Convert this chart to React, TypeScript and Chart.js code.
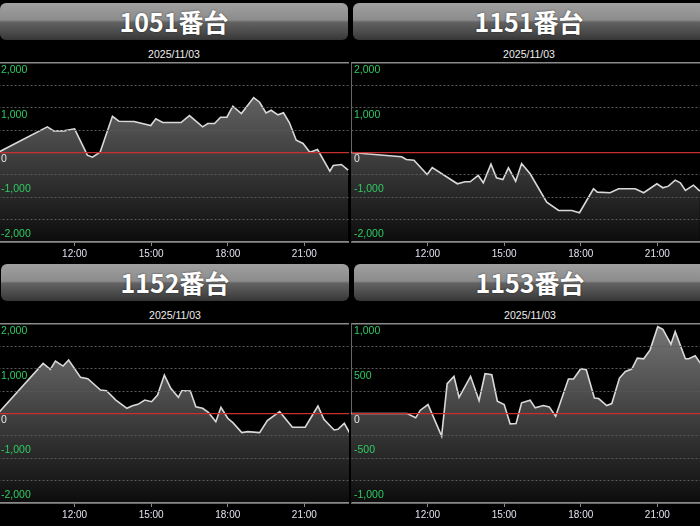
import React, { useEffect, useRef } from "react";
import { Chart, registerables } from "chart.js";

Chart.register(...registerables);

const DATE_LABEL = "2025/11/03";
const X_MIN = "9:00";
const X_MAX = "22:45";
const X_TICKS = ["12:00", "15:00", "18:00", "21:00"];

// 1051番台
const times1051 = ["9:00","10:56","11:11","11:35","12:00","12:30","12:42","13:00","13:29","13:44","14:20","14:59","15:11","15:27","16:10","16:30","17:01","17:13","17:29","17:43","17:58","18:12","18:32","19:01","19:15","19:30","19:42","19:58","20:11","20:25","20:41","20:57","21:13","21:31","22:00","22:08","22:27","22:43"];
const values1051 = [0,574,484,484,529,-60,-105,7,810,699,692,603,752,670,670,826,573,647,647,789,789,1034,871,1228,1123,886,944,841,886,663,275,201,7,67,-417,-290,-268,-395];

// 1151番台
const times1151 = ["9:00","10:59","11:10","11:28","11:59","12:11","13:10","13:28","13:40","13:59","14:11","14:29","14:42","14:57","15:10","15:27","15:41","16:01","16:40","17:08","17:39","17:57","18:30","18:39","19:09","19:29","20:08","20:28","20:59","21:13","21:26","21:42","21:54","22:06","22:25","22:40"];
const values1151 = [0,-96,-156,-171,-491,-335,-699,-654,-654,-513,-676,-261,-565,-603,-342,-640,-246,-476,-1109,-1295,-1295,-1346,-810,-886,-900,-810,-810,-900,-699,-788,-752,-618,-676,-848,-730,-864];

// 1152番台
const times1152 = ["9:00","10:46","11:03","11:15","11:33","11:46","12:14","12:31","13:01","13:15","13:37","14:03","14:16","14:29","14:45","15:01","15:15","15:31","15:46","16:04","16:12","16:32","16:45","17:01","17:15","17:32","17:44","18:00","18:12","18:33","18:47","19:15","19:33","20:02","20:32","21:02","21:32","21:46","22:10","22:19","22:34","22:47"];
const values1152 = [0,1120,986,1172,1060,1194,808,777,525,509,301,116,174,205,301,263,413,859,562,362,509,502,152,116,18,-183,138,-107,-205,-428,-406,-428,-160,40,-308,-308,167,-129,-368,-353,-219,-442];

// 1153番台
const times1153 = ["9:00","11:12","11:32","11:43","12:01","12:33","12:46","13:02","13:14","13:41","14:01","14:15","14:31","14:44","15:00","15:14","15:28","15:41","16:01","16:13","16:32","16:46","17:01","17:31","17:43","18:00","18:13","18:32","18:42","19:01","19:13","19:31","19:45","20:00","20:13","20:28","20:43","21:01","21:13","21:32","21:42","22:06","22:14","22:29","22:41"];
const values1153 = [0,0,-48,37,100,-252,333,415,181,415,144,444,433,137,100,-115,-111,119,148,63,89,74,-30,385,385,500,489,174,167,89,111,396,470,496,619,611,711,970,941,774,915,611,611,644,563];

const ticks2000 = [-2000, -1500, -1000, -500, 0, 500, 1000, 1500, 2000];
const labels2000 = [2000, 1000, 0, -1000, -2000];
const ticks1000 = [-1000, -750, -500, -250, 0, 250, 500, 750, 1000];
const labels1000 = [1000, 500, 0, -500, -1000];

const toMin = (s: string) => {
  const [h, m] = s.split(":").map(Number);
  return h * 60 + m;
};

type PanelProps = {
  title: string;
  times: string[];
  values: number[];
  gridTicks: number[];
  labelTicks: number[];
  headerLeft: number;
  headerTop: number;
  headerWidth: number;
  canvasLeft: number;
};

const CANVAS_W = 351;
const PLOT_H = 179;
const AXIS_H = 20;
const PAD_TOP = 2;

function Panel(p: PanelProps) {
  const ref = useRef<HTMLCanvasElement | null>(null);
  useEffect(() => {
    if (!ref.current) return;
    const yMax = Math.max(...p.gridTicks);
    const yMin = Math.min(...p.gridTicks);
    const labelPlugin = {
      id: "yLabels",
      afterDraw(chart: any) {
        const c = chart.ctx;
        const ys = chart.scales.y;
        const area = chart.chartArea;
        c.save();
        c.font = "10.5px 'Liberation Sans', Arial, sans-serif";
        c.textAlign = "left";
        c.textBaseline = "middle";
        p.labelTicks.forEach((v) => {
          const y = ys.getPixelForValue(v) + (v >= 0 ? 7 : -8);
          c.fillStyle = v === 0 ? "#e6e6e6" : "#2fcb62";
          c.fillText(v.toLocaleString("en-US"), area.left + 3, y);
        });
        c.restore();
      },
    };
    const chart = new Chart(ref.current, {
      type: "line",
      data: {
        datasets: [
          {
            data: p.times.map((t, i) => ({ x: toMin(t), y: p.values[i] })),
            borderColor: "#d9d9d9",
            borderWidth: 1.6,
            pointRadius: 0,
            tension: 0,
            fill: "start",
            backgroundColor: (ctx: any) => {
              const ch = ctx.chart;
              const a = ch.chartArea;
              if (!a) return "rgba(90,90,90,1)";
              const g = ch.ctx.createLinearGradient(0, a.top, 0, a.bottom);
              g.addColorStop(0, "rgb(118,118,118)");
              g.addColorStop(1, "rgb(12,12,12)");
              return g;
            },
          },
        ],
      },
      options: {
        animation: false,
        responsive: false,
        devicePixelRatio: 1,
        layout: { padding: { top: PAD_TOP, left: 0, right: 0, bottom: 0 } },
        plugins: {
          legend: { display: false },
          tooltip: { enabled: false },
          title: { display: false },
        },
        scales: {
          x: {
            type: "linear",
            min: toMin(X_MIN),
            max: toMin(X_MAX),
            afterBuildTicks: (s: any) => {
              s.ticks = X_TICKS.map((t) => ({ value: toMin(t) }));
            },
            afterFit: (s: any) => {
              s.height = AXIS_H;
            },
            ticks: {
              color: "#e2e2f0",
              font: { size: 10, family: "'Liberation Sans', Arial, sans-serif" },
              padding: 2,
              maxRotation: 0,
              autoSkip: false,
              callback: (v: any) => `${Math.floor(v / 60)}:${String(v % 60).padStart(2, "0")}`,
            },
            grid: { drawOnChartArea: false, drawTicks: true, tickLength: 4, color: "#8a8a8a" },
            border: { display: true, color: "#8a8a8a", width: 1.5 },
          },
          y: {
            min: yMin,
            max: yMax,
            afterBuildTicks: (s: any) => {
              s.ticks = p.gridTicks.map((v) => ({ value: v }));
            },
            afterFit: (s: any) => {
              s.width = 0;
            },
            ticks: { display: false },
            grid: {
              z: 1,
              drawTicks: false,
              color: (ctx: any) => {
                const v = ctx.tick?.value;
                if (v === 0) return "#c83030";
                if (v === yMax || v === yMin) return "#8a8a8a";
                return "#5a5a5a";
              },
              lineWidth: (ctx: any) => {
                const v = ctx.tick?.value;
                if (v === 0) return 1.3;
                if (v === yMax || v === yMin) return 1.5;
                return 1;
              },
            },
            border: {
              display: true,
              color: "#8a8a8a",
              width: 1.5,
              dash: (ctx: any) => {
                const v = ctx.tick?.value;
                if (v === 0 || v === yMax || v === yMin) return [];
                return [2, 2];
              },
            },
          },
        },
      },
      plugins: [labelPlugin],
    } as any);
    return () => chart.destroy();
  }, []);

  const plotTop = p.headerTop + 60;
  return (
    <>
      <div
        style={{
          position: "absolute",
          left: p.headerLeft,
          top: p.headerTop,
          width: p.headerWidth,
          height: 37,
          borderRadius: 6,
          background:
            "linear-gradient(to bottom, #a0a0a0 0%, #8c8c8c 46%, #626262 52%, #4a4a4a 80%, #363636 100%)",
          color: "#ffffff",
          fontFamily: "'Noto Sans CJK JP', sans-serif",
          fontWeight: 700,
          fontSize: 25,
          lineHeight: "37px",
          textAlign: "center",
          textShadow: "0 0 2px rgba(0,0,0,0.6)",
        }}
      >
        {p.title}
      </div>
      <div
        style={{
          position: "absolute",
          left: p.headerLeft,
          top: p.headerTop + 45,
          width: p.headerWidth,
          height: 13,
          lineHeight: "13px",
          textAlign: "center",
          color: "#eeeeee",
          fontFamily: "'Liberation Sans', Arial, sans-serif",
          fontSize: 10.5,
        }}
      >
        {DATE_LABEL}
      </div>
      <canvas
        ref={ref}
        width={CANVAS_W}
        height={PLOT_H + PAD_TOP + AXIS_H}
        style={{
          position: "absolute",
          left: p.canvasLeft,
          top: plotTop - PAD_TOP,
          width: CANVAS_W,
          height: PLOT_H + PAD_TOP + AXIS_H,
          display: "block",
        }}
      />
    </>
  );
}

export default function App() {
  return (
    <div
      style={{
        position: "fixed",
        left: 0,
        top: 0,
        width: 700,
        height: 526,
        background: "#000000",
        overflow: "hidden",
      }}
    >
      <Panel title="1051番台" times={times1051} values={values1051} gridTicks={ticks2000} labelTicks={labels2000}
        headerLeft={0} headerTop={3} headerWidth={348} canvasLeft={-2} />
      <Panel title="1151番台" times={times1151} values={values1151} gridTicks={ticks2000} labelTicks={labels2000}
        headerLeft={353} headerTop={3} headerWidth={352} canvasLeft={351} />
      <Panel title="1152番台" times={times1152} values={values1152} gridTicks={ticks2000} labelTicks={labels2000}
        headerLeft={1} headerTop={264} headerWidth={348} canvasLeft={-2} />
      <Panel title="1153番台" times={times1153} values={values1153} gridTicks={ticks1000} labelTicks={labels1000}
        headerLeft={354} headerTop={264} headerWidth={352} canvasLeft={351} />
    </div>
  );
}
